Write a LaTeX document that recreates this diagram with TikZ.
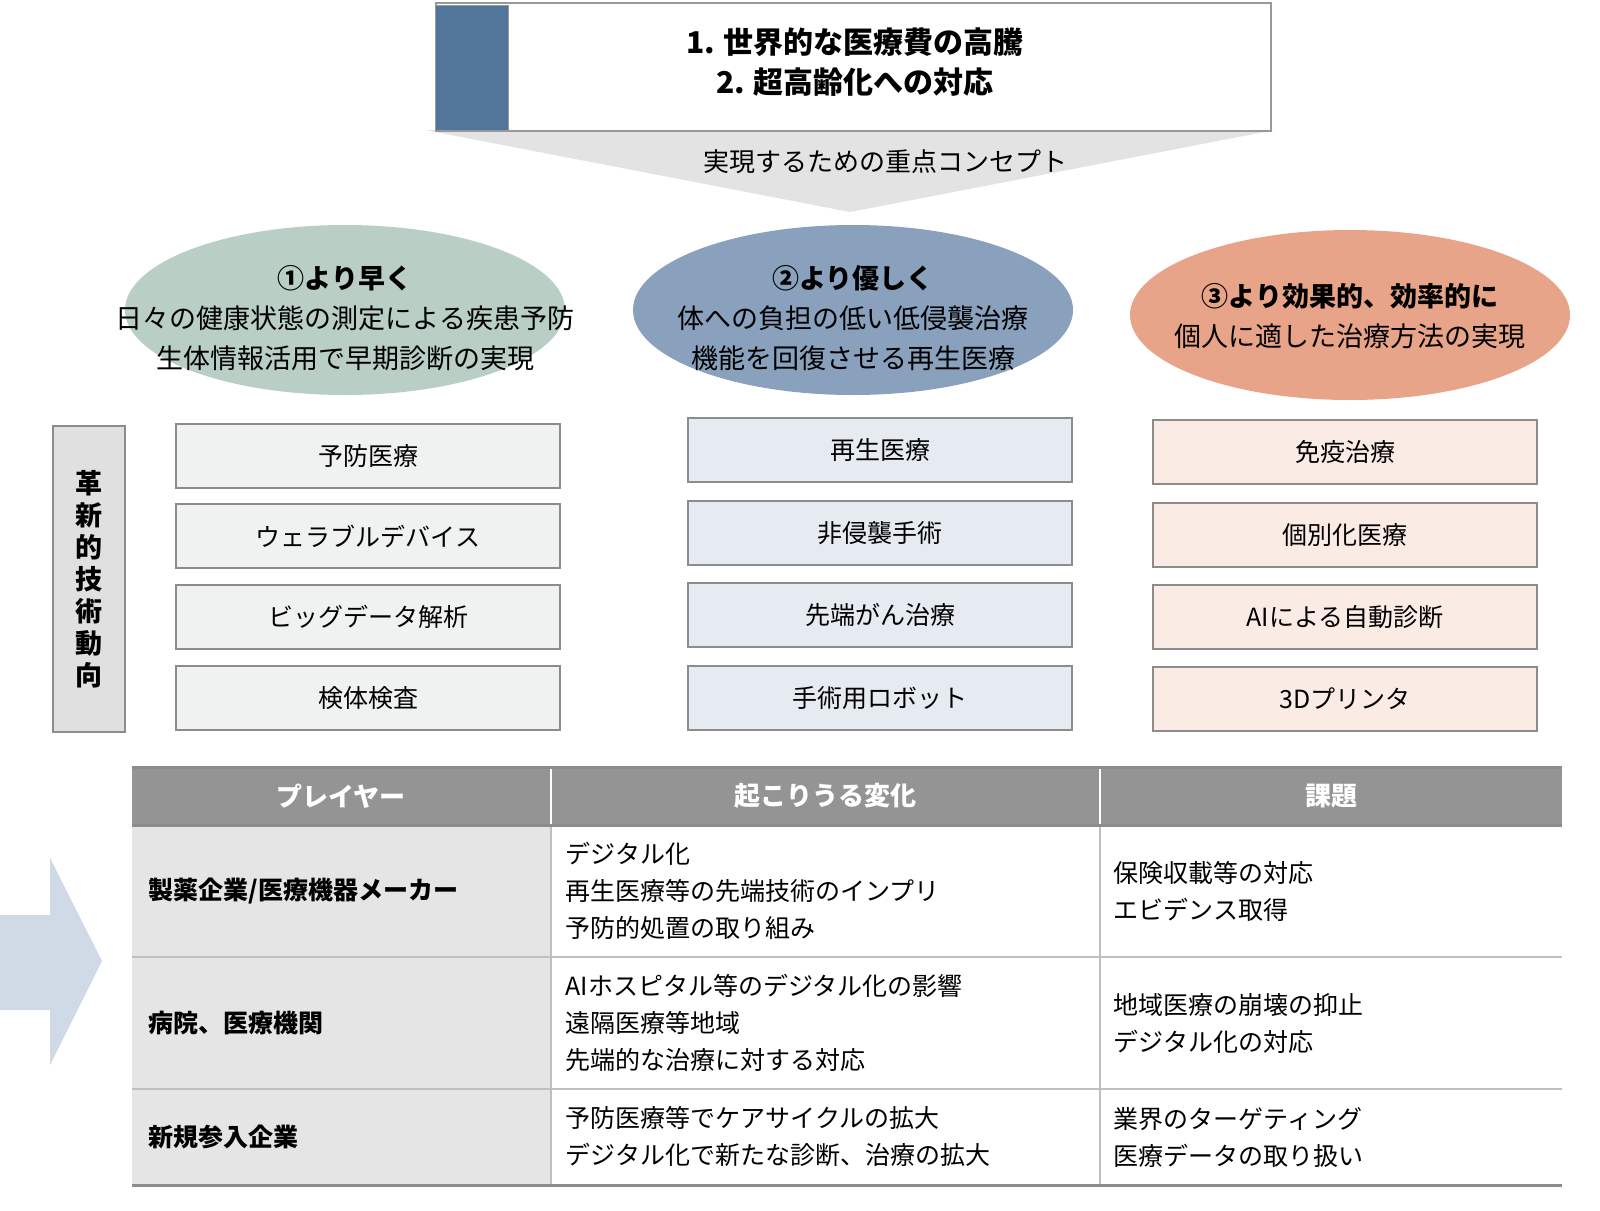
\documentclass[tikz,border=0pt]{standalone}
\usepackage{fontspec}
\usetikzlibrary{shapes.geometric}
\setmainfont{Noto Sans CJK JP}
\definecolor{cblue}{RGB}{82,117,154}
\definecolor{egreen}{RGB}{185,206,196}
\definecolor{eblue}{RGB}{138,161,190}
\definecolor{eorange}{RGB}{232,164,136}
\definecolor{fa}{RGB}{240,242,241}
\definecolor{fb}{RGB}{230,235,242}
\definecolor{fc}{RGB}{250,236,229}
\definecolor{arr}{RGB}{208,218,230}
\begin{document}
\begin{tikzpicture}[x=1pt,y=-1pt,
 tb/.style={draw=black!45,line width=1.5pt,minimum width=384pt,minimum height=64pt,font=\fontsize{25}{28}\selectfont},
 el/.style={ellipse,minimum width=440pt,minimum height=170pt,inner sep=0pt},
 cell/.style={anchor=west,align=left,font=\fontsize{25}{37}\selectfont},
 rl/.style={anchor=west,font=\fontsize{25}{30}\selectfont\bfseries}]
\useasboundingbox (0,0) rectangle (1600,1210);
\fill[gray!22] (425,130) -- (1275,130) -- (850,212) -- cycle;
\node[draw=black!40,line width=1.5pt,minimum width=835pt,minimum height=128pt,anchor=north west,fill=white] (top) at (435,2) {};
\fill[draw=black!40,fill=cblue] (435,5) rectangle (508,130);
\node[font=\fontsize{30}{40}\selectfont\bfseries,align=center] (ttl) at (855,62) {1. 世界的な医療費の高騰\\2. 超高齢化への対応};
\node[font=\fontsize{26}{30}\selectfont] (con) at (885,162) {実現するための重点コンセプト};
\node[el,fill=egreen] (e1) at (345,310) {};
\node[el,fill=eblue] (e2) at (853,310) {};
\node[el,fill=eorange] (e3) at (1350,315) {};
\node[align=center,font=\fontsize{27}{40}\selectfont] at (345,318) {\textbf{①より早く}\\日々の健康状態の測定による疾患予防\\生体情報活用で早期診断の実現};
\node[align=center,font=\fontsize{27}{40}\selectfont] at (853,318) {\textbf{②より優しく}\\体への負担の低い低侵襲治療\\機能を回復させる再生医療};
\node[align=center,font=\fontsize{27}{40}\selectfont] at (1350,316) {\textbf{③より効果的、効率的に}\\個人に適した治療方法の実現};
\node[draw=black!45,fill=black!12,line width=1.5pt,minimum width=72pt,minimum height=306pt,anchor=north west,align=center,font=\fontsize{27}{32}\selectfont\bfseries] (side) at (52,425) {革\\新\\的\\技\\術\\動\\向};
\foreach \t/\y [count=\i] in {予防医療/456,ウェラブルデバイス/536,ビッグデータ解析/617,検体検査/698}
  \node[tb,fill=fa] (a\i) at (368,\y) {\t};
\foreach \t/\y [count=\i] in {再生医療/450,非侵襲手術/533,先端がん治療/615,手術用ロボット/698}
  \node[tb,fill=fb] (b\i) at (880,\y) {\t};
\foreach \t/\y [count=\i] in {免疫治療/452,個別化医療/535,AIによる自動診断/617,3Dプリンタ/699}
  \node[tb,fill=fc] (c\i) at (1345,\y) {\t};
\fill[arr] (0,915) -- (50,915) -- (50,858) -- (102,961) -- (50,1065) -- (50,1010) -- (0,1010) -- cycle;
\fill[black!42] (132,767) rectangle (1562,825);
\fill[black!10] (132,825) rectangle (551,1185);
\draw[white,line width=1.5pt] (551,767) -- (551,825) (1100,767) -- (1100,825);
\draw[black!25,line width=1.5pt] (551,825) -- (551,1185) (1100,825) -- (1100,1185);
\draw[black!25,line width=1.5pt] (132,957) -- (1562,957) (132,1089) -- (1562,1089);
\draw[black!45,line width=3pt] (132,767) -- (1562,767) (132,825) -- (1562,825) (132,1185) -- (1562,1185);
\node[white,font=\fontsize{26}{30}\selectfont\bfseries] (h1) at (341,796) {プレイヤー};
\node[white,font=\fontsize{26}{30}\selectfont\bfseries] (h2) at (825,796) {起こりうる変化};
\node[white,font=\fontsize{26}{30}\selectfont\bfseries] (h3) at (1331,796) {課題};
\node[rl] (r1) at (145,891) {製薬企業/医療機器メーカー};
\node[rl] (r2) at (145,1023) {病院、医療機関};
\node[rl] (r3) at (145,1137) {新規参入企業};
\node[cell] at (562,891) {デジタル化\\再生医療等の先端技術のインプリ\\予防的処置の取り組み};
\node[cell] at (562,1023) {AIホスピタル等のデジタル化の影響\\遠隔医療等地域\\先端的な治療に対する対応};
\node[cell] at (562,1137) {予防医療等でケアサイクルの拡大\\デジタル化で新たな診断、治療の拡大};
\node[cell] at (1110,891) {保険収載等の対応\\エビデンス取得};
\node[cell] at (1110,1023) {地域医療の崩壊の抑止\\デジタル化の対応};
\node[cell] at (1110,1137) {業界のターゲティング\\医療データの取り扱い};
\end{tikzpicture}
\end{document}
